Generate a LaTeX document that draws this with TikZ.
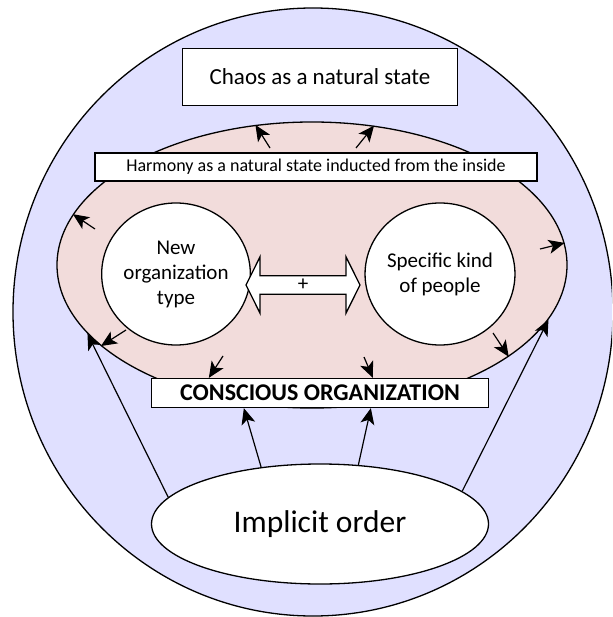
\documentclass[tikz,border=0pt]{standalone}
\usepackage{fontspec}
\setmainfont{Carlito}
\usetikzlibrary{arrows.meta,shapes.geometric,shapes.arrows}
\definecolor{outer}{RGB}{224,224,255}
\definecolor{inner}{RGB}{242,220,219}

\begin{document}
\begin{tikzpicture}[x=1pt,y=-1pt,
frame/.style={draw=black,line width=1.3pt},
zone/.style={frame,ellipse,inner sep=0pt},
banner/.style={frame,fill=white,inner sep=0pt},
core/.style={zone,fill=white,minimum size=142pt,align=center,font=\fontsize{21}{25}\selectfont},
flow/.style={-{Stealth[length=16pt,width=14pt,inset=4pt]},line width=1.2pt}]
\useasboundingbox (0,0) rectangle (612,617);
\clip (0,0) rectangle (612,617);
% background zones
\node[zone,fill=outer,minimum width=600pt,minimum height=608pt] (world) at (313,312) {};
\node[zone,fill=inner,minimum width=510pt,minimum height=286pt] (pink) at (312,265) {};
% boxes
\node[banner,minimum width=275pt,minimum height=57pt,font=\fontsize{23}{27}\selectfont] (chaos) at (320,77) {Chaos as a natural state};
\node[banner,minimum width=442pt,minimum height=28pt,font=\fontsize{18}{21}\selectfont] (harmony) at (316,167) {Harmony as a natural state inducted from the inside};
\node[core] (neworg) at (176,274) {New\\organization\\type};
\node[core] (people) at (440,274) {Specific kind\\of people};
\node[double arrow,frame,fill=white,minimum width=56pt,minimum height=114pt,double arrow head extend=13pt,double arrow tip angle=127,inner sep=0pt,font=\fontsize{21}{25}\selectfont] (link) at (303,285) {+};
\node[banner,minimum width=337pt,minimum height=29pt,font=\fontsize{24}{28}\selectfont\bfseries] (conscious) at (320,393) {CONSCIOUS ORGANIZATION};
\node[zone,fill=white,minimum width=337pt,minimum height=120pt,font=\fontsize{31.5}{37}\selectfont] (implicit) at (320,524) {Implicit order};
% free ends of the short arrows
\coordinate (t1) at (270,148);
\coordinate (t2) at (356,148);
\coordinate (l1) at (95,229);
\coordinate (l2) at (126,330);
\coordinate (r1) at (540,249);
\coordinate (r2) at (493,333);
\coordinate (b1) at (223,356);
\coordinate (b2) at (364,357);
% short arrows to the pink border
\draw[flow] (t1) -- (pink.112.6);
\draw[flow] (t2) -- (pink.66);
\draw[flow] (l1) -- (pink.168.6);
\draw[flow] (l2) -- (pink.201.8);
\draw[flow] (r1) -- (pink.5.2);
\draw[flow] (r2) -- (pink.335.5);
\draw[flow] (b1) -- ([xshift=58pt]conscious.north west);
\draw[flow] (b2) -- ([xshift=222pt]conscious.north west);
% arrows from the implicit order
\draw[flow] (implicit.170.5) -- (pink.197.1);
\draw[flow] (implicit.13.2) -- (pink.347.4);
\draw[flow] (implicit.136) -- ([xshift=93pt]conscious.south west);
\draw[flow] (implicit.57) -- ([xshift=220pt]conscious.south west);
\end{tikzpicture}
\end{document}
